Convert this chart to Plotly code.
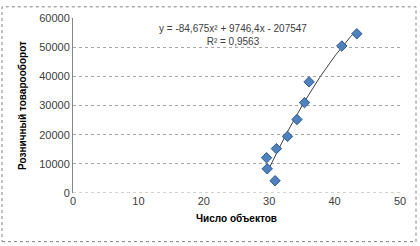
import numpy as np
import plotly.graph_objects as go

# Data
objects = [43.4, 41.1, 36.1, 35.4, 34.25, 32.8, 31.1, 29.6, 29.7, 30.9]
turnover = [54600, 50400, 38100, 31000, 25200, 19400, 15200, 12100, 8300, 4200]
trend_coef = [-84.675, 9746.4, -207547]  # quadratic trendline from the label
x_ticks = [0, 10, 20, 30, 40, 50]
y_ticks = [0, 10000, 20000, 30000, 40000, 50000, 60000]
y_tick_labels = ["0", "10000", "20000", "30000", "40000", "50000", "60000"]
eq_text = "y = -84,675x² + 9746,4x - 207547<br>R² = 0,9563"

xt = np.linspace(min(objects), max(objects), 100)
yt = np.polyval(trend_coef, xt)

fig = go.Figure()
fig.add_trace(go.Scatter(x=xt, y=yt, mode="lines",
                         line=dict(color="#404040", width=1), showlegend=False,
                         hoverinfo="skip"))
fig.add_trace(go.Scatter(x=objects, y=turnover, mode="markers",
                         marker=dict(symbol="diamond", size=8, color="#4F81BD",
                                     line=dict(color="#2C5A94", width=1)),
                         showlegend=False))

font = "Liberation Sans, Arial, sans-serif"
fig.update_layout(
    width=420, height=246,
    margin=dict(l=73, r=20, t=13, b=53),
    paper_bgcolor="white", plot_bgcolor="white",
    font=dict(family=font, size=11, color="#404040"),
    xaxis=dict(range=[0, 50], tickvals=x_ticks, showgrid=False, zeroline=False,
               showline=False, ticks="", ticklen=0,
               tickfont=dict(size=11, color="#404040"),
               title=dict(text="<b>Число объектов</b>", font=dict(size=10, color="black"),
                          standoff=8)),
    yaxis=dict(range=[0, 60000], tickvals=y_ticks, ticktext=y_tick_labels, showgrid=True,
               gridcolor="#A6A6A6", griddash="dot", gridwidth=1,
               zeroline=False, showline=True, linecolor="#868686", linewidth=1,
               ticks="", tickfont=dict(size=11, color="#404040"),
               title=dict(text="<b>Розничный товарооборот</b>", font=dict(size=10, color="black"),
                          standoff=10)),
    annotations=[dict(x=24.5, y=54300, xref="x", yref="y", text=eq_text,
                      showarrow=False, align="center",
                      font=dict(size=10, color="#404040"))],
    shapes=[dict(type="line", xref="x", yref="y", x0=0, x1=50, y0=0, y1=0,
                 line=dict(color="#A6A6A6", width=1, dash="dot")),
            dict(type="rect", xref="paper", yref="paper",
                 x0=(2 - 73) / 327, x1=(416 - 73) / 327,
                 y0=(193 - 243) / 180, y1=(193 - 1.5) / 180,
                 line=dict(color="#808080", width=1, dash="dot"))],
)
fig.write_html("out.html")
